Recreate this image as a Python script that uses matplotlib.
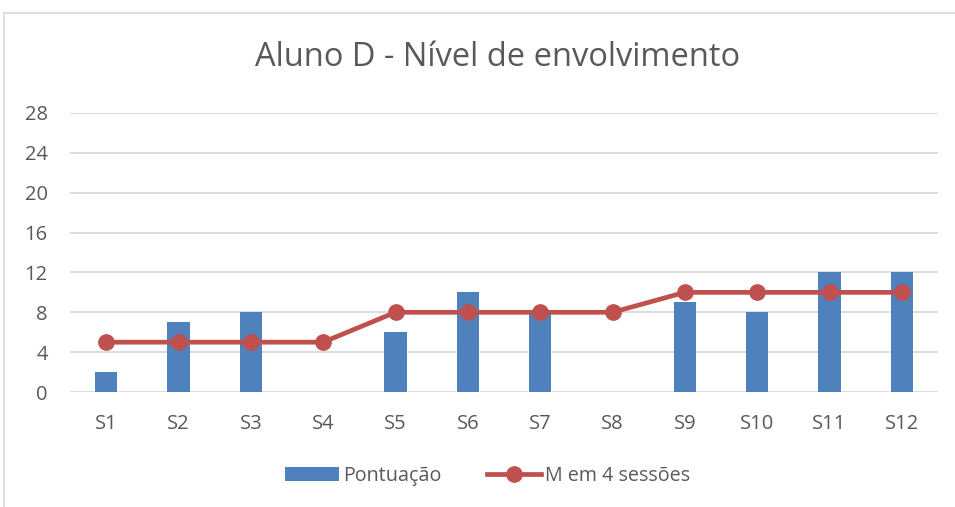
"""Aluno D - nível de envolvimento: pontuação por sessão + média em 4 sessões."""
import matplotlib
matplotlib.use("Agg")
import matplotlib.pyplot as plt
from matplotlib.patches import Rectangle

SESSOES = ["S1", "S2", "S3", "S4", "S5", "S6", "S7", "S8", "S9", "S10", "S11", "S12"]
PONTUACAO = [2, 7, 8, 0, 6, 10, 8, 0, 9, 8, 12, 12]
MEDIA_4 = [5, 5, 5, 5, 8, 8, 8, 8, 10, 10, 10, 10]
YTICKS = [0, 4, 8, 12, 16, 20, 24, 28]

AZUL, VERM, CINZA, GRADE = "#4F81BD", "#C0504D", "#595959", "#D9D9D9"
plt.rcParams.update({"font.family": ["Open Sans", "DejaVu Sans"]})

fig = plt.figure(figsize=(9.55, 5.07), dpi=100)
# moldura do gráfico (só topo/esquerda visíveis)
fig.patches.append(Rectangle((4 / 955, -0.1), 1.2, 1.074, transform=fig.transFigure,
                             fill=False, edgecolor=GRADE, linewidth=1.2))

ax = fig.add_axes([70 / 955, 1 - 392 / 507, 868 / 955, 279 / 507])
x = range(len(SESSOES))
barras = ax.bar(x, PONTUACAO, width=0.31, color=AZUL, label="Pontuação", zorder=2)
linha, = ax.plot(x, MEDIA_4, color=VERM, linewidth=3.4, marker="o", markersize=11,
                 label="M em 4 sessões", zorder=3)

ax.set_xlim(-0.5, len(SESSOES) - 0.5)
ax.set_ylim(0, 28)
ax.set_yticks(YTICKS)
ax.set_xticks(list(x), SESSOES)
ax.tick_params(length=0, labelsize=14.5, colors=CINZA)
ax.tick_params(axis="x", pad=16)
ax.tick_params(axis="y", pad=16)
ax.grid(axis="y", color=GRADE, linewidth=1.3, zorder=0)
for s in ax.spines.values():
    s.set_visible(False)

fig.text(498 / 955, 1 - 58 / 507, "Aluno D - Nível de envolvimento", ha="center", va="center",
         fontsize=23.5, color=CINZA)
fig.legend([barras, linha], ["Pontuação", "M em 4 sessões"], loc="center",
           bbox_to_anchor=(488 / 955, 1 - 476 / 507), ncol=2, frameon=False,
           fontsize=14.2, labelcolor=CINZA, handlelength=2.7, handletextpad=0.25,
           columnspacing=2.3)

fig.savefig("out.png")
